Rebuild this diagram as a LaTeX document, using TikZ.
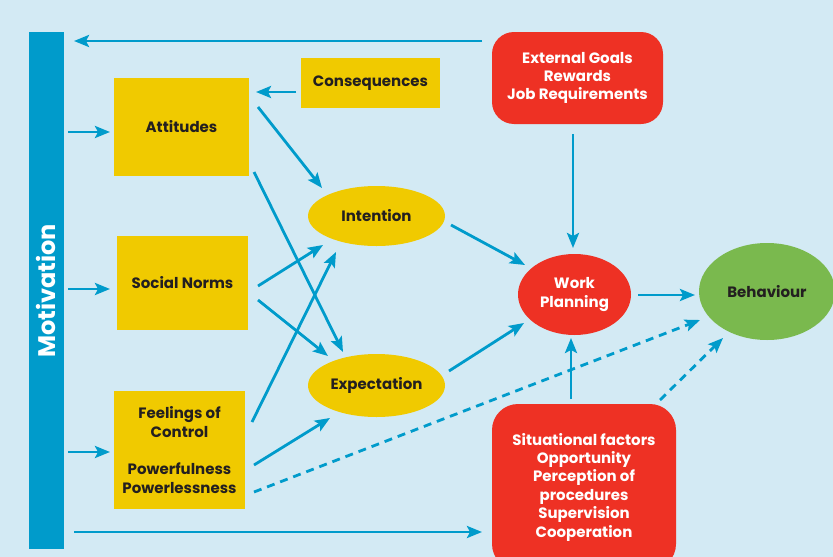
\documentclass[tikz,border=0pt]{standalone}
\usepackage{fontspec}
\setmainfont{Poppins}
\usetikzlibrary{arrows.meta,calc,shapes.geometric}
\definecolor{bgc}{HTML}{D3EAF4}
\definecolor{barc}{HTML}{009BCB}
\definecolor{ylw}{HTML}{F0CA00}
\definecolor{redc}{HTML}{EE3124}
\definecolor{grn}{HTML}{7AB94E}
\definecolor{ink}{HTML}{231F20}
\tikzset{
  lbl/.style={font=\fontsize{15}{18.4}\selectfont\bfseries, align=center, inner sep=0pt},
  ybox/.style={lbl, fill=ylw, text=ink, rectangle},
  yell/.style={lbl, fill=ylw, text=ink, ellipse},
  rbox/.style={lbl, fill=redc, text=white, rectangle, rounded corners=22pt},
  rell/.style={lbl, fill=redc, text=white, ellipse},
  gell/.style={lbl, fill=grn, text=ink, ellipse},
  arr/.style={draw=barc, line width=2.8pt, -{Stealth[length=15pt,width=12pt,inset=3pt]}},
  darr/.style={arr, dash pattern=on 8pt off 6pt},
}
\begin{document}
\begin{tikzpicture}[x=1pt,y=-1pt]
\useasboundingbox (0,0) rectangle (833,557);
\fill[bgc] (0,0) rectangle (833,557);

% side bar
\node[fill=barc, minimum width=35pt, minimum height=517pt, inner sep=0pt] (mot) at (46.5,290.5) {};
\node[rotate=90, text=white, font=\fontsize{24}{26}\selectfont\bfseries] (motl) at (46,291) {Motivation};

% yellow boxes
\node[ybox, minimum width=135pt, minimum height=98pt] (att) at (181.5,127) {Attitudes};
\node[ybox, minimum width=139pt, minimum height=50pt] (con) at (370.5,83) {Consequences};
\node[ybox, minimum width=131pt, minimum height=94pt] (soc) at (182.5,283) {Social Norms};
\node[ybox, minimum width=131pt, minimum height=118pt] (feel) at (179.5,450)
  {Feelings of\\Control\\[19pt]Powerfulness\\Powerlessness};

% ellipses
\node[yell, minimum width=137pt, minimum height=60pt] (int) at (376.5,216) {Intention};
\node[yell, minimum width=137pt, minimum height=63pt] (exp) at (376.5,385.5) {Expectation};
\node[rell, minimum width=113pt, minimum height=81pt] (wp) at (574.5,294.5) {Work\\Planning};
\node[gell, minimum width=136pt, minimum height=97pt] (beh) at (767,291.5) {Behaviour};

% red boxes
\node[rbox, minimum width=171pt, minimum height=92pt] (ext) at (577.5,78)
  {External Goals\\Rewards\\Job Requirements};
\node[rbox, minimum width=184pt, minimum height=166pt, rounded corners=26pt] (sit) at (584,487)
  {Situational factors\\Opportunity\\Perception of\\procedures\\Supervision\\Cooperation};

% connectors
\draw[arr] ($(ext)+(-95.5,-37)$) -- ($(mot)+(27.5,-249.5)$);
\draw[arr] ($(mot)+(27.5,241.5)$) -- ($(sit)+(-102,45)$);
\draw[arr] ($(mot)+(21.5,-158.5)$) -- ($(att)+(-71.5,5)$);
\draw[arr] ($(mot)+(21.5,-1.5)$) -- ($(soc)+(-72.5,6)$);
\draw[arr] ($(mot)+(21.5,161.5)$) -- ($(feel)+(-69.5,2)$);
\draw[arr] ($(con)+(-74.5,9)$) -- ($(att)+(74.5,-35)$);
\draw[arr] ($(att)+(76.5,-20)$) -- ($(int)+(-54.5,-28)$);
\draw[arr] ($(att)+(72.5,45)$) -- ($(exp)+(-33.5,-33.5)$);
\draw[arr] ($(soc)+(75.5,3)$) -- ($(int)+(-53.5,29)$);
\draw[arr] ($(soc)+(75.5,17)$) -- ($(exp)+(-48.5,-29.5)$);
\draw[arr] ($(feel)+(72.5,-28)$) -- ($(int)+(-40.5,36)$);
\draw[arr] ($(feel)+(74.5,15)$) -- ($(exp)+(-46.5,32.5)$);
\draw[darr] ($(feel)+(74.5,42)$) -- ($(beh)+(-67,28.5)$);
\draw[arr] ($(int)+(74.5,9)$) -- ($(wp)+(-49.5,-29.5)$);
\draw[arr] ($(exp)+(72.5,-14.5)$) -- ($(wp)+(-50.5,28.5)$);
\draw[arr] ($(wp)+(63.5,0.5)$) -- ($(beh)+(-72,3.5)$);
\draw[arr] ($(ext)+(-4.5,56)$) -- ($(wp)+(-1.5,-46.5)$);
\draw[arr] ($(sit)+(-13,-88)$) -- ($(wp)+(-3.5,43.5)$);
\draw[darr] ($(sit)+(76,-87)$) -- ($(beh)+(-44,46.5)$);
\end{tikzpicture}
\end{document}
